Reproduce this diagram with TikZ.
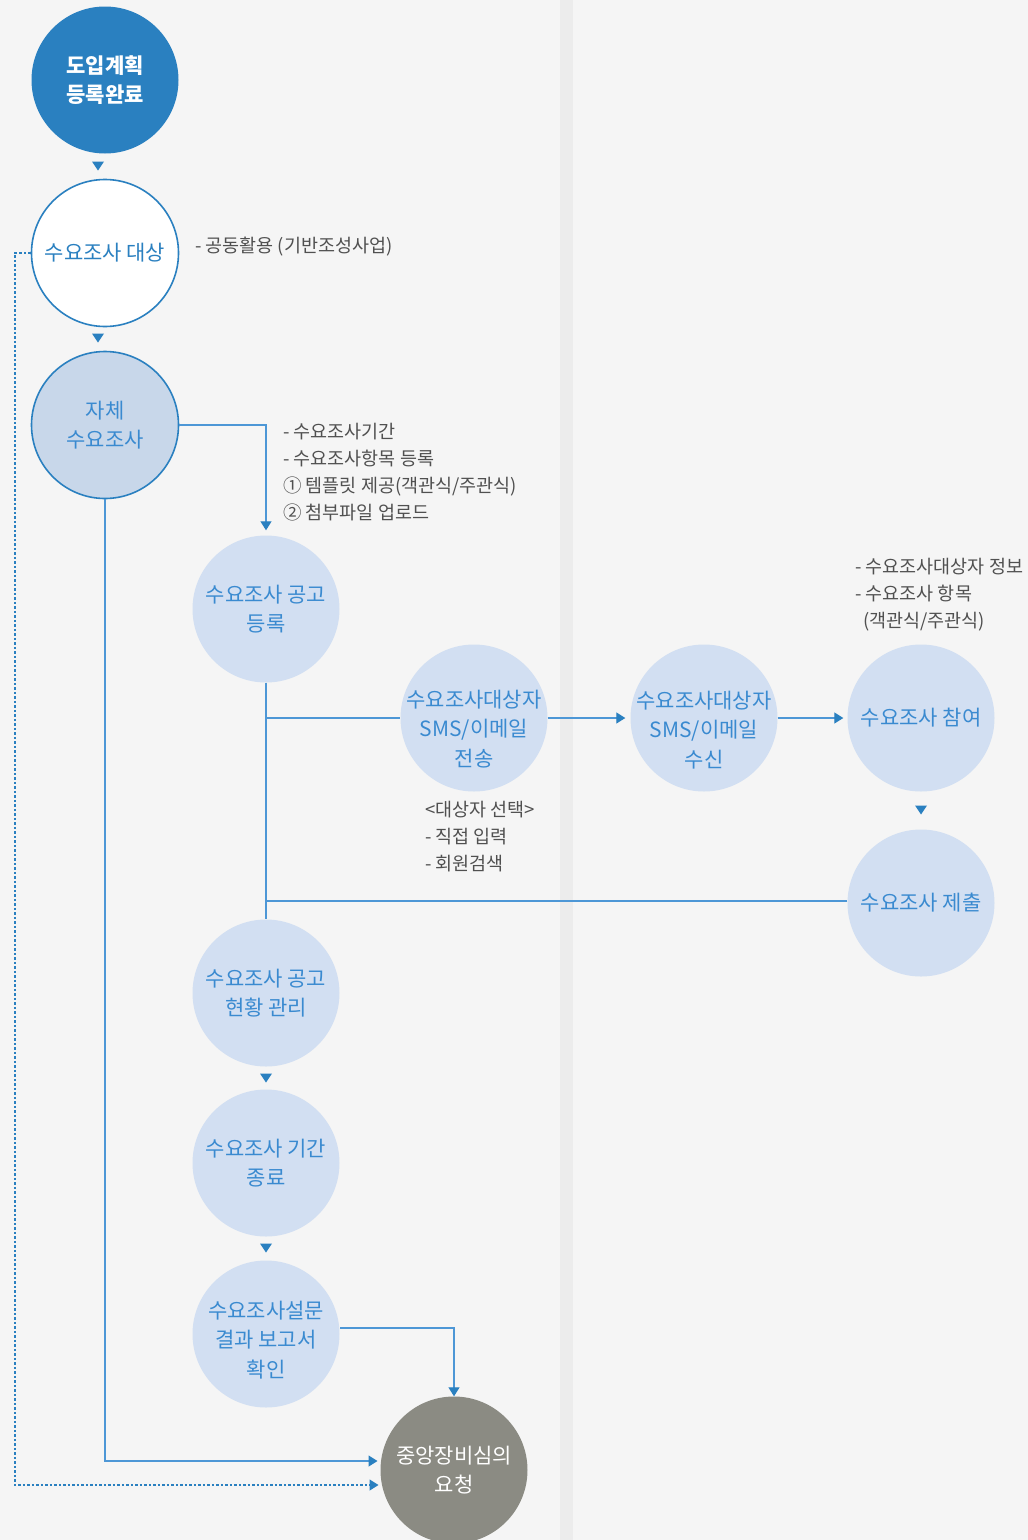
\documentclass[tikz,border=0pt]{standalone}
\usepackage{fontspec}
\newfontfamily\kr{Noto Sans CJK KR}
\usetikzlibrary{arrows.meta,calc}
\definecolor{bg}{HTML}{F5F5F5}
\definecolor{stripc}{HTML}{ECECEC}
\definecolor{dblue}{HTML}{2A80C0}
\definecolor{tblue}{HTML}{3A8AD0}
\definecolor{lfill}{HTML}{D2DFF2}
\definecolor{mfill}{HTML}{C8D7EA}
\definecolor{gfill}{HTML}{8B8B83}
\definecolor{agray}{HTML}{505050}
\definecolor{lineblue}{HTML}{4D97D6}
\newcommand\dtri[2]{\fill[dblue] (#1-6,#2-4.5) -- (#1+6,#2-4.5) -- (#1,#2+4.5) -- cycle;}
\begin{document}
\begin{tikzpicture}[x=1pt,y=-1pt,
 ctext/.style={align=center,inner sep=0pt,font=\kr\fontsize{21}{29.5}\selectfont},
 circ/.style={circle,minimum size=147pt,inner sep=0pt,ctext},
 darkc/.style={circ,fill=dblue,text=white},
 outc/.style={circ,fill=white,draw=dblue,line width=1.6pt,text=dblue},
 midc/.style={circ,fill=mfill,draw=dblue,line width=1.6pt,text=tblue},
 lightc/.style={circ,fill=lfill,text=tblue},
 greyc/.style={circ,fill=gfill,text=white},
 note/.style={align=left,anchor=west,inner sep=0pt,text=agray,font=\kr\fontsize{18.5}{27}\selectfont},
 conn/.style={draw=lineblue,line width=1.2pt},
 tipa/.style={-{Triangle[width=11pt,length=9pt,color=dblue]}},
 dotc/.style={draw=dblue,line width=1.2pt,dash pattern=on 2.5pt off 2pt}
]
\useasboundingbox (0,0) rectangle (1028,1540);
\clip (0,0) rectangle (1028,1540);
\fill[bg] (0,0) rectangle (1028,1540);
\fill[stripc] (560,0) rectangle (573,1540);

% nodes
\node[darkc] (n1) at (105,80) {\bfseries 도입계획\\\bfseries 등록완료};
\node[outc] (n2) at (105,253) {수요조사 대상};
\node[midc] (n3) at (105,425) {자체\\수요조사};
\node[lightc] (n4) at (266,609) {수요조사 공고\\등록};
\node[lightc,label={[ctext,text=tblue,yshift=-11pt]center:{수요조사대상자\\SMS/이메일\\전송}}] (n5) at (474,718) {};
\node[lightc,label={[ctext,text=tblue,yshift=-12pt]center:{수요조사대상자\\SMS/이메일\\수신}}] (n6) at (704,718) {};
\node[lightc] (n7) at (921,718) {수요조사 참여};
\node[lightc] (n8) at (921,903) {수요조사 제출};
\node[lightc] (n9) at (266,993) {수요조사 공고\\현황 관리};
\node[lightc] (n10) at (266,1163) {수요조사 기간\\종료};
\node[lightc,label={[ctext,text=tblue,yshift=-6pt]center:{수요조사설문\\결과 보고서\\확인}}] (n11) at (266,1334) {};
\node[greyc] (n12) at (454,1470) {중앙장비심의\\요청};

% annotations
\node[note] (t1) at (195,247) {- 공동활용 (기반조성사업)};
\node[note] (t2) at (283,472) {- 수요조사기간\\- 수요조사항목 등록\\① 템플릿 제공(객관식/주관식)\\② 첨부파일 업로드};
\node[note] (t3) at (855,595) {- 수요조사대상자 정보\\- 수요조사 항목\\\hspace*{8pt}(객관식/주관식)};
\node[note] (t4) at (425,837) {<대상자 선택>\\- 직접 입력\\- 회원검색};

% coordinates
\coordinate (j1) at (266,718);
\coordinate (j2) at (266,901);
\coordinate (e1) at (380.5,1461);
\coordinate (e2) at (381.5,1485);
\coordinate (d1) at (15,253);
\coordinate (d2) at (15,1485);
\coordinate (c1) at (105,1461);
\coordinate (s11) at (340,1328);

% connectors
\draw[conn,tipa,shorten >=5pt] (n3.east) -| (n4.north);
\draw[conn] (n4.south) -- (n9.north);
\draw[conn] (j1) -- (n5.west);
\draw[conn,tipa,shorten >=5pt] (n5.east) -- (n6.west);
\draw[conn,tipa,shorten >=4pt] (n6.east) -- (n7.west);
\draw[conn] (n8.west |- j2) -- (j2);
\draw[conn,tipa,shorten >=3pt] (n3.south) -- (c1) -- (e1);
\draw[dotc,tipa,shorten >=3pt] (n2.west) -- (d1) -- (d2) -- (e2);
\draw[conn,tipa] (s11) -| (n12.north);

% step markers
\dtri{98}{166}
\dtri{98}{338}
\dtri{921}{810}
\dtri{266}{1078}
\dtri{266}{1248}
\end{tikzpicture}
\end{document}
